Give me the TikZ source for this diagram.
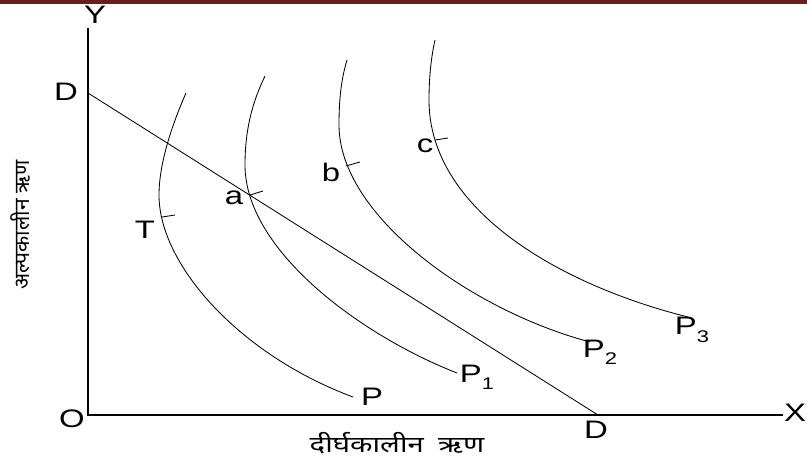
\documentclass[tikz,border=0pt]{standalone}
\usepackage{fontspec}
\setmainfont[FakeStretch=1.3]{Liberation Sans}
\newfontfamily\hindifont[Script=Devanagari, FakeStretch=1.3]{Noto Sans}
\newfontfamily\hindiside[Script=Devanagari]{Noto Sans}
\usetikzlibrary{positioning}

\definecolor{barred}{RGB}{105,30,30}
\newcommand{\psub}[1]{P\raisebox{-0.55ex}{\fontsize{12}{13}\selectfont #1}}

\begin{document}
\begin{tikzpicture}[
        x=0.025cm, y=-0.025cm,
        lbl/.style={font=\fontsize{18}{20}\selectfont, inner sep=1pt},
        hindilbl/.style={font=\hindifont\fontsize{16}{18}\selectfont, inner sep=1pt},
        axis/.style={line width=0.8pt},
        curve/.style={line width=0.6pt},
        tickmark/.style={line width=0.6pt}
    ]
    \useasboundingbox (0,0) rectangle (807,461);
    \fill[barred] (0,0) rectangle (807,4);

    % axes and the D line
    \coordinate (o) at (88,415);
    \coordinate (ytop) at (88,28);
    \coordinate (xend) at (783,415);
    \coordinate (dtop) at (88,93);
    \coordinate (dbot) at (598,415);
    \draw[axis] (ytop) -- (o) -- (xend);
    \draw[curve] (dtop) -- (dbot);

    % curves
    \draw[curve] (186,93) .. controls (175,118) and (159,160) .. (159,195)
        .. controls (159,265) and (240,355) .. (353,397);
    \draw[curve] (265,76) .. controls (252,103) and (245,130) .. (245,165)
        .. controls (245,250) and (360,335) .. (457,373);
    \draw[curve] (347,60) .. controls (341,80) and (339,100) .. (339,125)
        .. controls (339,215) and (470,310) .. (590,342);
    \draw[curve] (435,40) .. controls (431,58) and (429,78) .. (429,100)
        .. controls (429,210) and (560,285) .. (688,317);

    % small marks
    \draw[tickmark] (162,217) -- (175,215);
    \draw[tickmark] (250,195) -- (263,191);
    \draw[tickmark] (346,166) -- (360,162);
    \draw[tickmark] (435,140) -- (448,138);

    % labels
    \node[lbl] (ylab) at (95,15) {Y};
    \node[lbl] (xlab) at (795,413) {X};
    \node[lbl] (olab) at (72,419) {O};
    \node[lbl] (dleft) at (66,92) {D};
    \node[lbl] (dright) at (596,430) {D};
    \node[lbl] (tlab) at (145,230) {T};
    \node[lbl] (alab) at (234,198) {a};
    \node[lbl] (blab) at (331,172) {b};
    \node[lbl] (clab) at (425,146) {c};
    \node[lbl] (p0) at (372,397) {P};
    \node[lbl] (p1) at (477,377) {\psub{1}};
    \node[lbl] (p2) at (600,352) {\psub{2}};
    \node[lbl] (p3) at (692,330) {\psub{3}};
    \node[hindilbl] (xtitle) at (397,443) {दीर्घकालीन\hspace{0.3em} ऋण};
    \node[font=\hindiside\fontsize{15}{18}\selectfont, inner sep=1pt, rotate=90] (ytitle) at (20,225) {अल्पकालीन ऋण};
\end{tikzpicture}
\end{document}
